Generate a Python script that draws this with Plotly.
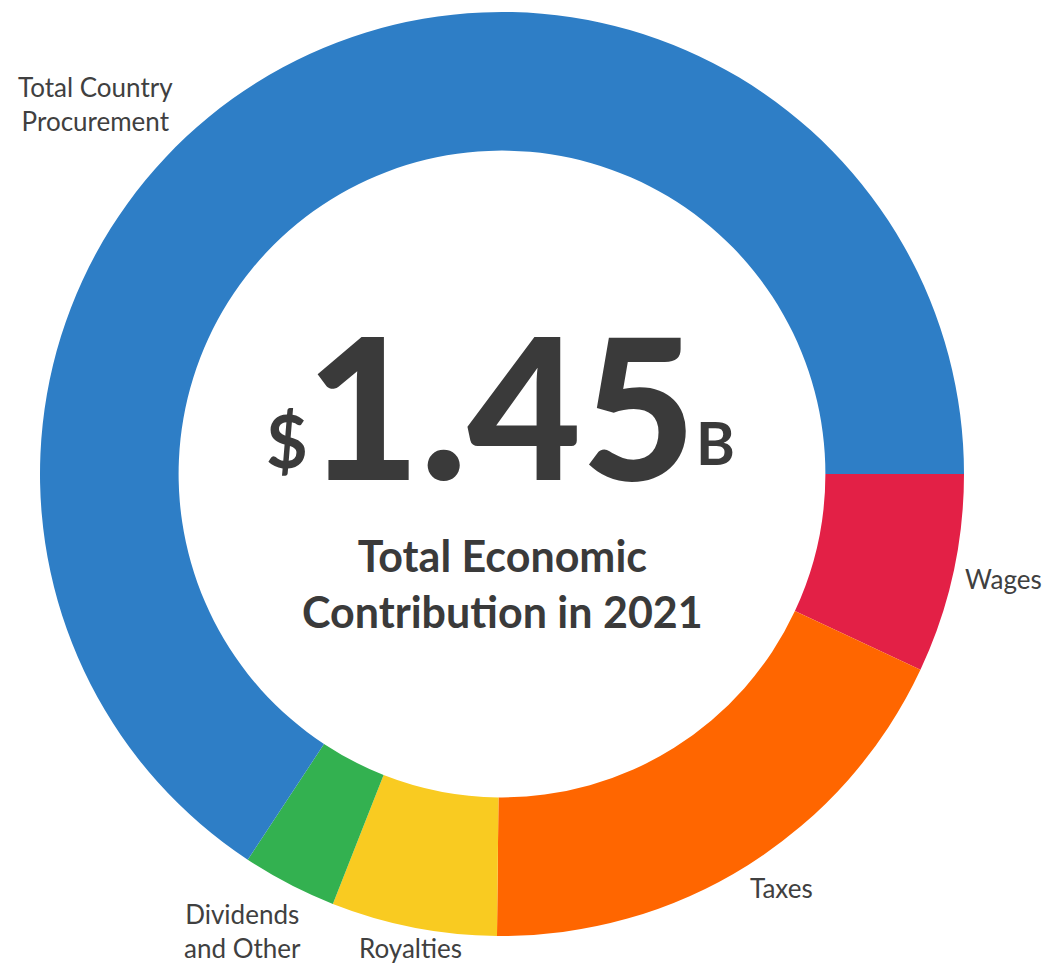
import plotly.graph_objects as go

# Data ($ millions, total 1.45B)
categories = ["Wages", "Taxes", "Royalties", "Dividends and Other", "Total Country Procurement"]
values = [101, 264, 84, 48, 953]
colors = ["#E32046", "#FF6600", "#F9CB21", "#33B150", "#2E7EC6"]
label_texts = ["Wages", "Taxes", "Royalties", "Dividends<br>and Other", "Total Country<br>Procurement"]
center_value = "1.45"
center_title = "Total Economic<br>Contribution in 2021"

W, H = 1043, 967
def px(x):
    return x / W
def py(y):
    return 1 - y / H

cx, cy, R = 502, 474, 462

fig = go.Figure(go.Pie(
    labels=categories,
    values=values,
    hole=0.70,
    sort=False,
    direction="clockwise",
    rotation=90,
    marker=dict(colors=colors, line=dict(width=0)),
    textinfo="none",
    hoverinfo="label+value",
    domain=dict(x=[px(cx - R), px(cx + R)], y=[py(cy + R), py(cy - R)]),
    showlegend=False,
))

LBL = dict(family="Lato, 'Open Sans', sans-serif", size=26, color="#404040")
label_pos = {
    "Wages": (1003, 579),
    "Taxes": (781, 888),
    "Royalties": (410, 948),
    "Dividends and Other": (242, 931),
    "Total Country Procurement": (95, 104),
}
annotations = []
for cat, txt in zip(categories, label_texts):
    x, y = label_pos[cat]
    annotations.append(dict(text=txt, x=px(x), y=py(y), xref="paper", yref="paper",
                            xanchor="center", yanchor="middle", showarrow=False,
                            align="center", font=LBL))

CF = "Lato, 'Open Sans', sans-serif"
DARK = "#3A3A3A"
annotations += [
    dict(text="$", x=px(287), y=py(440), xref="paper", yref="paper", showarrow=False,
         xanchor="center", yanchor="middle", font=dict(family=CF, size=72, color=DARK, weight=700)),
    dict(text=center_value, x=px(501), y=py(404), xref="paper", yref="paper", showarrow=False,
         xanchor="center", yanchor="middle", font=dict(family=CF, size=197, color=DARK, weight=900)),
    dict(text="B", x=px(715), y=py(443), xref="paper", yref="paper", showarrow=False,
         xanchor="center", yanchor="middle", font=dict(family=CF, size=59, color=DARK, weight=700)),
    dict(text=center_title, x=px(502), y=py(583), xref="paper", yref="paper", showarrow=False,
         xanchor="center", yanchor="middle", align="center",
         font=dict(family=CF, size=43, color=DARK, weight=700)),
]

fig.update_layout(
    width=W, height=H,
    margin=dict(l=0, r=0, t=0, b=0),
    paper_bgcolor="white",
    plot_bgcolor="white",
    annotations=annotations,
)

fig.write_html("out.html")
